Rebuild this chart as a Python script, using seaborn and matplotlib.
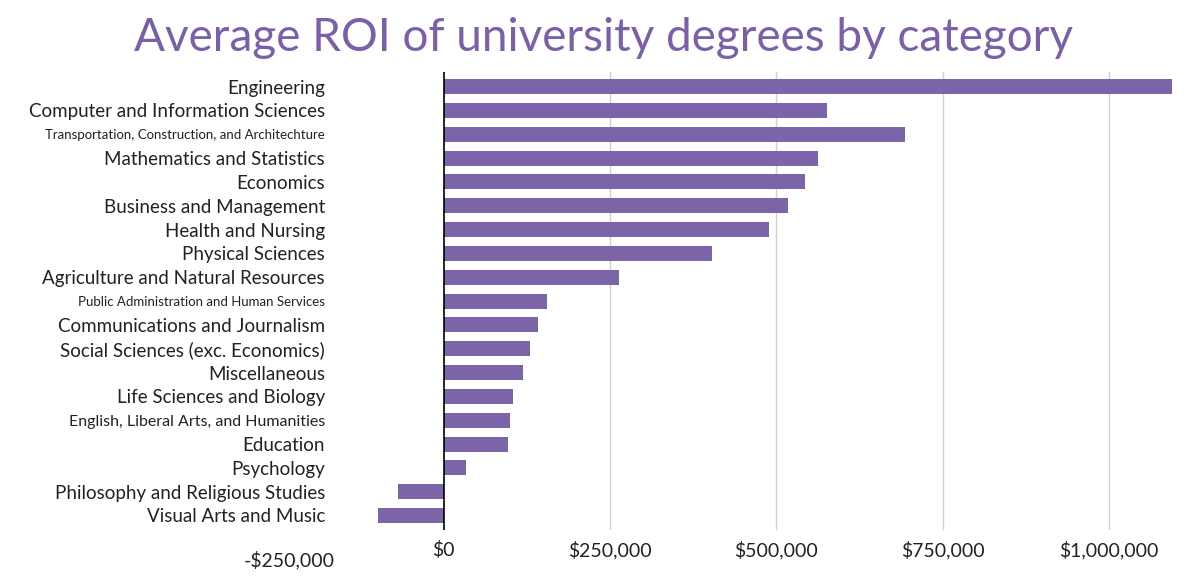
import matplotlib
matplotlib.use("Agg")
import matplotlib.pyplot as plt
import pandas as pd
import seaborn as sns

categories = [
    "Engineering", "Computer and Information Sciences",
    "Transportation, Construction, and Architechture",
    "Mathematics and Statistics", "Economics", "Business and Management",
    "Health and Nursing", "Physical Sciences", "Agriculture and Natural Resources",
    "Public Administration and Human Services", "Communications and Journalism",
    "Social Sciences (exc. Economics)", "Miscellaneous", "Life Sciences and Biology",
    "English, Liberal Arts, and Humanities", "Education", "Psychology",
    "Philosophy and Religious Studies", "Visual Arts and Music",
]
roi = [1094600, 576600, 693700, 563000, 543500, 518000, 489500, 404000, 264000,
       154700, 141000, 129000, 118600, 103600, 99000, 96000, 33000, -69000, -99000]
tick_values = [0, 250000, 500000, 750000, 1000000]
tick_labels = ["$0", "$250,000", "$500,000", "$750,000", "$1,000,000"]
small_labels = {"Transportation, Construction, and Architechture": 9.5,
                "Public Administration and Human Services": 9.5,
                "English, Liberal Arts, and Humanities": 11.5}

purple = "#7b64a7"
df = pd.DataFrame({"category": categories, "roi": roi})

fig = plt.figure(figsize=(12, 5.79), dpi=100)
ax = fig.add_axes([0.28, 0.085, 0.705, 0.79])
sns.barplot(data=df, x="roi", y="category", color=purple, width=0.63,
            saturation=1, ax=ax, zorder=3)
ax.set_xlim(-162000, 1110000)
ax.set_ylim(18.6, -0.6)
ax.set_xticks(tick_values)
ax.set_xticklabels(tick_labels, fontsize=14, color="#222222", family="Lato")
ax.text(-232000, -0.045, "-$250,000", transform=ax.get_xaxis_transform(),
        ha="center", va="top", fontsize=14, color="#222222", family="Lato", clip_on=False)
ax.tick_params(axis="x", length=0, pad=8)
ax.tick_params(axis="y", length=0, pad=8)
for lbl in ax.get_yticklabels():
    lbl.set_fontsize(small_labels.get(lbl.get_text(), 13.5))
    lbl.set_family("Lato")
    lbl.set_color("#222222")
    lbl.set_horizontalalignment("right")
ax.set_xlabel("")
ax.set_ylabel("")
for v in tick_values[1:]:
    ax.axvline(v, color="#d0d0d0", lw=1, zorder=1)
ax.axvline(0, color="black", lw=1.2, zorder=4)
for s in ax.spines.values():
    s.set_visible(False)
fig.text(0.503, 0.935, "Average ROI of university degrees by category", ha="center",
         va="center", fontsize=33, color="#7b5fa8", family="Lato")
fig.savefig("out.png", dpi=100)
